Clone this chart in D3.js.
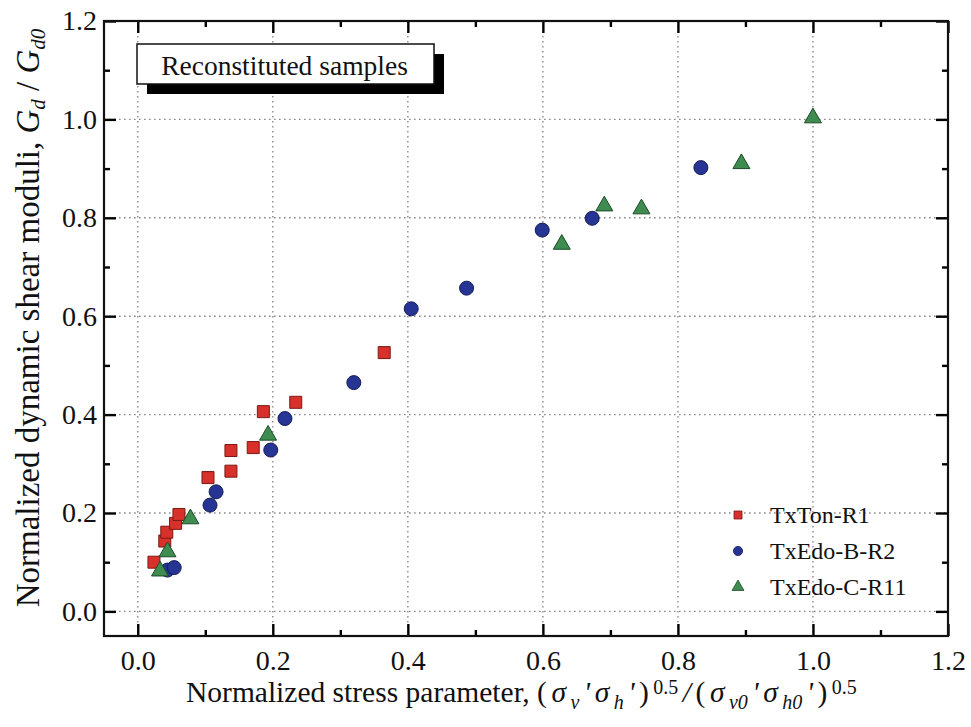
<!DOCTYPE html>
<html>
<head>
<meta charset="utf-8">
<script src="https://cdn.jsdelivr.net/npm/d3@7"></script>
<style>
  html, body { margin: 0; padding: 0; background: #ffffff; }
  svg { display: block; font-family: "Liberation Serif", "Times New Roman", serif; }
</style>
</head>
<body>
<svg id="chart" width="971" height="727"></svg>
<script>
// Series names and values
const seriesNames = ["TxTon-R1", "TxEdo-B-R2", "TxEdo-C-R11"];

const tonX = [0.024, 0.040, 0.043, 0.056, 0.061, 0.104, 0.138, 0.138, 0.171, 0.186, 0.234, 0.365];
const tonY = [0.100, 0.143, 0.161, 0.179, 0.197, 0.272, 0.285, 0.327, 0.333, 0.406, 0.425, 0.526];

const edoBX = [0.044, 0.054, 0.107, 0.116, 0.197, 0.218, 0.320, 0.405, 0.487, 0.599, 0.673, 0.834];
const edoBY = [0.084, 0.089, 0.216, 0.243, 0.328, 0.392, 0.465, 0.615, 0.657, 0.775, 0.799, 0.902];

const edoCX = [0.033, 0.044, 0.078, 0.193, 0.628, 0.691, 0.746, 0.894, 1.000];
const edoCY = [0.082, 0.121, 0.188, 0.358, 0.746, 0.824, 0.818, 0.910, 1.003];

// Axis ticks
const majorTicks = [0, 0.2, 0.4, 0.6, 0.8, 1.0, 1.2];
const minorTicks = [0.1, 0.3, 0.5, 0.7, 0.9, 1.1];
const gridTicks = [0, 0.2, 0.4, 0.6, 0.8, 1.0];
const tickLabels = ["0.0", "0.2", "0.4", "0.6", "0.8", "1.0", "1.2"];

const titleText = "Reconstituted samples";

// Layout
const plot = { left: 104, right: 948, top: 21, bottom: 636 };
const serif = "Liberation Serif, Times New Roman, serif";

const svg = d3.select("#chart");

const x = d3.scaleLinear().domain([-0.05, 1.2]).range([plot.left, plot.right]);
const y = d3.scaleLinear().domain([-0.05, 1.2]).range([plot.bottom, plot.top]);

// Dotted grid
const grid = svg.append("g").attr("class", "grid")
  .attr("stroke", "#8a8a8a").attr("stroke-width", 1.4)
  .attr("stroke-dasharray", "1.6,3.4");
grid.selectAll("line.v").data(gridTicks).join("line").attr("class", "v")
  .attr("x1", d => x(d)).attr("x2", d => x(d))
  .attr("y1", plot.top).attr("y2", plot.bottom);
grid.selectAll("line.h").data(gridTicks).join("line").attr("class", "h")
  .attr("x1", plot.left).attr("x2", plot.right)
  .attr("y1", d => y(d)).attr("y2", d => y(d));

// Axes with inward ticks on all four sides
const fmt = d => tickLabels[majorTicks.indexOf(d)];
function styleAxis(g) {
  g.select(".domain").remove();
  g.selectAll(".tick line").attr("stroke", "#000").attr("stroke-width", 2.4);
  g.selectAll(".tick text").attr("fill", "#111").attr("font-size", 28)
    .attr("font-family", serif);
}
svg.append("g").attr("transform", `translate(0,${plot.bottom})`)
  .call(d3.axisBottom(x).tickValues(majorTicks).tickFormat(fmt).tickSize(-12).tickPadding(14))
  .call(styleAxis);
svg.append("g").attr("transform", `translate(0,${plot.bottom})`)
  .call(d3.axisBottom(x).tickValues(minorTicks).tickFormat("").tickSize(-6))
  .call(styleAxis);
svg.append("g").attr("transform", `translate(0,${plot.top})`)
  .call(d3.axisTop(x).tickValues(majorTicks).tickFormat("").tickSize(-12))
  .call(styleAxis);
svg.append("g").attr("transform", `translate(0,${plot.top})`)
  .call(d3.axisTop(x).tickValues(minorTicks).tickFormat("").tickSize(-6))
  .call(styleAxis);
svg.append("g").attr("transform", `translate(${plot.left},0)`)
  .call(d3.axisLeft(y).tickValues(majorTicks).tickFormat(fmt).tickSize(-12).tickPadding(7))
  .call(styleAxis);
svg.append("g").attr("transform", `translate(${plot.left},0)`)
  .call(d3.axisLeft(y).tickValues(minorTicks).tickFormat("").tickSize(-6))
  .call(styleAxis);
svg.append("g").attr("transform", `translate(${plot.right},0)`)
  .call(d3.axisRight(y).tickValues(majorTicks).tickFormat("").tickSize(-12))
  .call(styleAxis);
svg.append("g").attr("transform", `translate(${plot.right},0)`)
  .call(d3.axisRight(y).tickValues(minorTicks).tickFormat("").tickSize(-6))
  .call(styleAxis);

// Plot frame
svg.append("rect")
  .attr("x", plot.left).attr("y", plot.top)
  .attr("width", plot.right - plot.left).attr("height", plot.bottom - plot.top)
  .attr("fill", "none").attr("stroke", "#111").attr("stroke-width", 2.2);

// Title box with drop shadow
const box = { x: 137, y: 44, w: 297, h: 40, off: 10 };
svg.append("rect").attr("x", box.x + box.off).attr("y", box.y + box.off)
  .attr("width", box.w).attr("height", box.h).attr("fill", "#000");
svg.append("rect").attr("x", box.x).attr("y", box.y)
  .attr("width", box.w).attr("height", box.h)
  .attr("fill", "#fff").attr("stroke", "#111").attr("stroke-width", 1.5);
svg.append("text").attr("x", box.x + box.w / 2 - 1).attr("y", box.y + 31)
  .attr("text-anchor", "middle").attr("font-size", 27.5).attr("fill", "#111")
  .text(titleText);

// Series styles
const series = [
  { name: seriesNames[0], xs: tonX, ys: tonY, sym: d3.symbolSquare, size: 144, legendSize: 64,
    fill: "#d8312b", stroke: "#7a1a14" },
  { name: seriesNames[1], xs: edoBX, ys: edoBY, sym: d3.symbolCircle, size: 154, legendSize: 66,
    fill: "#263594", stroke: "#141c55" },
  { name: seriesNames[2], xs: edoCX, ys: edoCY, sym: d3.symbolTriangle, size: 125, legendSize: 62,
    fill: "#3f8c50", stroke: "#1d4a26" }
];

series.forEach(s => {
  const pts = s.xs.map((v, i) => [v, s.ys[i]]);
  svg.append("g").selectAll("path").data(pts).join("path")
    .attr("transform", d => `translate(${x(d[0])},${y(d[1])})`)
    .attr("d", d3.symbol().type(s.sym).size(s.size))
    .attr("fill", s.fill).attr("stroke", s.stroke).attr("stroke-width", 1);
});

// Legend
const legend = svg.append("g").attr("transform", "translate(738,515)");
series.forEach((s, i) => {
  const row = legend.append("g").attr("transform", `translate(0,${i * 36})`);
  row.append("path").attr("d", d3.symbol().type(s.sym).size(s.legendSize)())
    .attr("fill", s.fill).attr("stroke", s.stroke).attr("stroke-width", 0.8);
  row.append("text").attr("x", 32).attr("y", 8).attr("font-size", 24)
    .attr("fill", "#111").text(s.name);
});

// X axis title
const xt = svg.append("text").attr("x", 186).attr("y", 702)
  .attr("text-anchor", "start").attr("font-size", 29.5).attr("fill", "#111");
xt.append("tspan").text("Normalized stress parameter, ");
const xParts = [
  ["(", ""], ["σ", "i"], ["v", "sub"], ["'", "i"], ["σ", "i"], ["h", "sub"], ["'", "i"], [")", ""], ["0.5", "sup"],
  ["/", "i"], ["(", ""], ["σ", "i"], ["v0", "sub"], ["'", "i"], ["σ", "i"], ["h0", "sub"], ["'", "i"], [")", ""], ["0.5", "sup"]
];
xParts.forEach(([t, k], i) => {
  const sp = xt.append("tspan").text(t);
  if (i > 0) sp.attr("dx", 4.5);
  if (k === "i") sp.attr("font-style", "italic");
  if (k === "sub") sp.attr("font-style", "italic").attr("font-size", 20).attr("baseline-shift", "-35%");
  if (k === "sup") sp.attr("font-size", 20).attr("baseline-shift", "42%");
});

// Y axis title
const yt = svg.append("text")
  .attr("transform", `translate(39,318) rotate(-90)`)
  .attr("text-anchor", "middle").attr("font-size", 33).attr("fill", "#111");
yt.append("tspan").text("Normalized dynamic shear moduli, ");
yt.append("tspan").attr("font-style", "italic").text("G");
yt.append("tspan").attr("font-style", "italic").attr("font-size", 21).attr("baseline-shift", "-30%").text("d");
yt.append("tspan").text(" / ");
yt.append("tspan").attr("font-style", "italic").text("G");
yt.append("tspan").attr("font-style", "italic").attr("font-size", 21).attr("baseline-shift", "-30%").text("d0");
</script>
</body>
</html>
